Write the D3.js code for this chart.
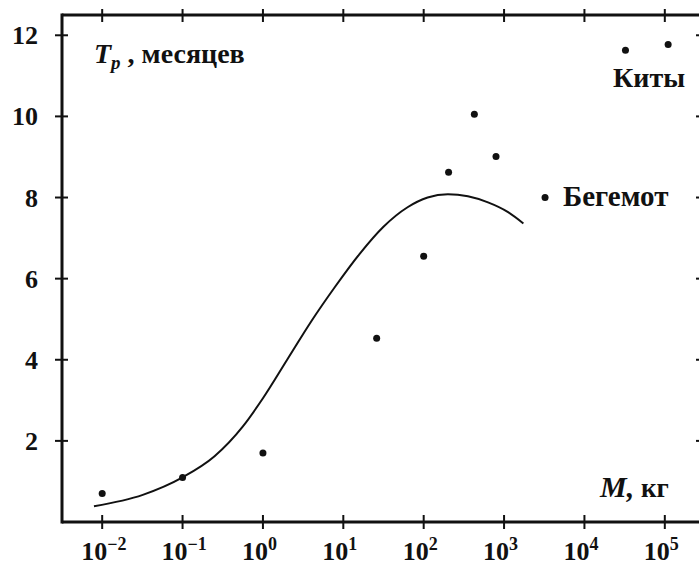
<!DOCTYPE html>
<html>
<head>
<meta charset="utf-8">
<script src="https://cdn.jsdelivr.net/npm/d3@7"></script>
<style>
  body { margin: 0; background: #fff; }
  svg text { font-family: "Liberation Serif", "Times New Roman", serif; font-weight: bold; fill: #111; }
</style>
</head>
<body>
<svg id="chart" width="699" height="566"></svg>
<script>
// масса, кг (точки)
const pointMass = [0.01, 0.1, 1, 26, 100, 204, 427, 794, 3236, 32400, 110000];
const pointT = [0.7, 1.1, 1.7, 4.53, 6.55, 8.62, 10.05, 9.01, 8.0, 11.63, 11.77];

// аппроксимирующая кривая
const curveMass = [0.0079, 0.032, 0.1, 0.25, 0.56, 1, 2.0, 4.0, 7.9, 15.8, 31.6, 63, 112, 200, 355, 631, 1122, 1740];
const curveT = [0.39, 0.67, 1.10, 1.62, 2.35, 3.05, 4.00, 4.95, 5.80, 6.60, 7.28, 7.76, 8.00, 8.08, 8.03, 7.88, 7.64, 7.36];

const xTicks = [1e-2, 1e-1, 1e0, 1e1, 1e2, 1e3, 1e4, 1e5];
const xExp = ["\u22122", "\u22121", "0", "1", "2", "3", "4", "5"];
const yTicks = [2, 4, 6, 8, 10, 12];

const svg = d3.select("#chart");
const x = d3.scaleLog().domain([Math.pow(10, -2.5), Math.pow(10, 5.5)]).range([62, 705]);
const y = d3.scaleLinear().domain([0, 12.5]).range([522, 15]);

const ink = "#111";

// рамка
const frame = svg.append("g").attr("stroke", ink).attr("stroke-width", 3).attr("fill", "none");
frame.append("line").attr("x1", x.range()[0]).attr("x2", 710).attr("y1", y(0)).attr("y2", y(0));
frame.append("line").attr("x1", x.range()[0]).attr("x2", 710).attr("y1", y(12.5)).attr("y2", y(12.5));
frame.append("line").attr("x1", x.range()[0]).attr("x2", x.range()[0]).attr("y1", y(0) + 1.5).attr("y2", y(12.5) - 1.5);
frame.append("line").attr("x1", 703).attr("x2", 703).attr("y1", y(0)).attr("y2", y(12.5));

// засечки
const ticks = svg.append("g").attr("stroke", ink).attr("stroke-width", 2);
xTicks.forEach(v => {
  ticks.append("line").attr("x1", x(v)).attr("x2", x(v)).attr("y1", y(0) - 7).attr("y2", y(0) + 7);
  ticks.append("line").attr("x1", x(v)).attr("x2", x(v)).attr("y1", y(12.5) - 6).attr("y2", y(12.5) + 7);
});
yTicks.forEach(v => {
  ticks.append("line").attr("x1", x.range()[0] - 7).attr("x2", x.range()[0] + 6).attr("y1", y(v)).attr("y2", y(v));
  ticks.append("line").attr("x1", 696).attr("x2", 710).attr("y1", y(v)).attr("y2", y(v));
});

// подписи оси X
svg.append("g").selectAll("text").data(xTicks).join("text")
  .attr("x", d => x(d) - 21)
  .attr("y", 560)
  .attr("font-size", 26)
  .each(function (d, i) {
    const t = d3.select(this);
    t.append("tspan").text("10");
    t.append("tspan").attr("dy", -10).attr("font-size", 18).text(xExp[i]);
  });

// подписи оси Y
svg.append("g").selectAll("text").data(yTicks).join("text")
  .attr("x", 38)
  .attr("y", d => y(d) + 9)
  .attr("text-anchor", "end")
  .attr("font-size", 26)
  .text(d => d);

// кривая
const line = d3.line().x((d, i) => x(curveMass[i])).y(d => y(d)).curve(d3.curveMonotoneX);
svg.append("path").datum(curveT)
  .attr("d", line)
  .attr("fill", "none")
  .attr("stroke", ink)
  .attr("stroke-width", 2);

// точки
svg.append("g").selectAll("circle").data(pointT).join("circle")
  .attr("cx", (d, i) => x(pointMass[i]))
  .attr("cy", d => y(d))
  .attr("r", 3.5)
  .attr("fill", ink);

// надписи
const ty = svg.append("text").attr("x", 94).attr("y", 63).attr("font-size", 28);
ty.append("tspan").attr("font-style", "italic").text("T");
ty.append("tspan").attr("font-style", "italic").attr("font-size", 19).attr("dy", 6).text("p");
ty.append("tspan").attr("dy", -6).text(" , месяцев");

const tm = svg.append("text").attr("x", 600).attr("y", 497).attr("font-size", 30);
tm.append("tspan").attr("font-style", "italic").text("M,");
tm.append("tspan").attr("font-size", 27).text(" кг");

svg.append("text").attr("x", 613).attr("y", 87).attr("font-size", 28).text("Киты");
svg.append("text").attr("x", 563).attr("y", 206).attr("font-size", 29).text("Бегемот");
</script>
</body>
</html>
